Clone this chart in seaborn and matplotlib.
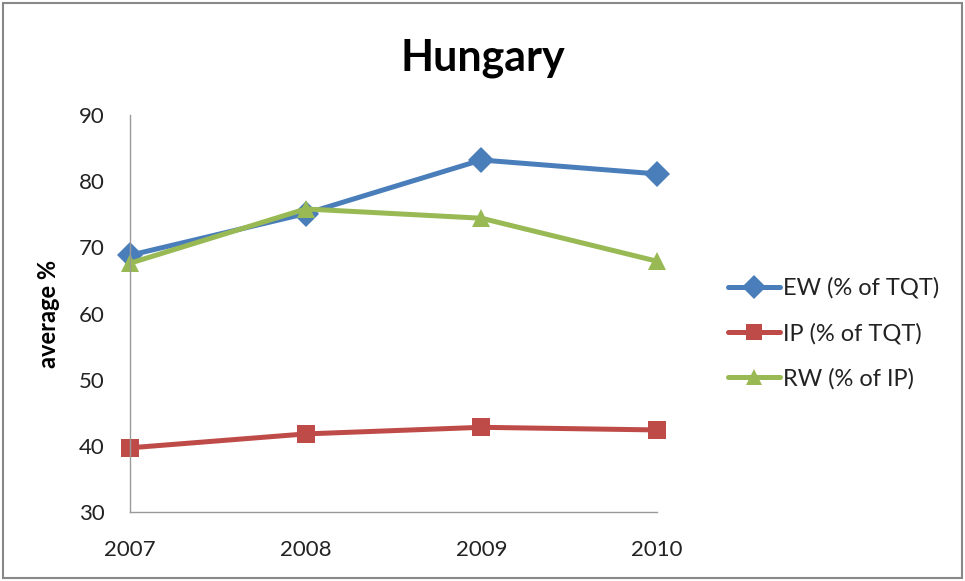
import matplotlib
matplotlib.use("Agg")
import matplotlib.pyplot as plt
import seaborn as sns
import pandas as pd
from matplotlib.patches import Rectangle

years = [2007, 2008, 2009, 2010]
ew = [68.8, 75.1, 83.2, 81.1]
ip = [39.7, 41.8, 42.8, 42.4]
rw = [67.6, 75.8, 74.4, 67.9]
series_names = ["EW (% of TQT)", "IP (% of TQT)", "RW (% of IP)"]
y_ticks = [30, 40, 50, 60, 70, 80, 90]

sns.set_theme(style="white")
plt.rcParams['font.family'] = ['Lato', 'DejaVu Sans']

df = pd.DataFrame({
    "year": years * 3,
    "value": ew + ip + rw,
    "series": [series_names[0]] * 4 + [series_names[1]] * 4 + [series_names[2]] * 4,
})

colors = {series_names[0]: "#4A7EBB", series_names[1]: "#BE4B48", series_names[2]: "#98B954"}
markers = {series_names[0]: "D", series_names[1]: "s", series_names[2]: "^"}

fig = plt.figure(figsize=(9.65, 5.81), dpi=100)
ax = fig.add_axes([130/965, 69/581, 527/965, 397/581])

sns.lineplot(data=df, x="year", y="value", hue="series", style="series",
             palette=colors, markers=markers, dashes=False, linewidth=3.6,
             markersize=13, markeredgewidth=0, ax=ax, legend=True)
for ln in ax.lines:
    ln.set_clip_on(False)

ax.set_xlim(2007, 2010)
ax.set_ylim(30, 90)
ax.set_xticks(years)
ax.set_xticklabels([str(y) for y in years])
ax.set_yticks(y_ticks)
ax.tick_params(axis='both', length=0, labelsize=16, colors="#222222")
ax.tick_params(axis='y', pad=18)
ax.tick_params(axis='x', pad=20)
for s in ["top", "right"]:
    ax.spines[s].set_visible(False)
for s in ["left", "bottom"]:
    ax.spines[s].set_color("#999999")
    ax.spines[s].set_linewidth(1)
ax.set_xlabel("")
ax.set_ylabel("average %", fontsize=17, fontweight="bold", labelpad=14, color="black")

leg = ax.legend(loc="center left", bbox_to_anchor=(1.095, 0.45), frameon=False,
                fontsize=17, handlelength=2.2, labelspacing=1.0, handletextpad=0.1)
for h in leg.legend_handles:
    h.set_linewidth(3.6)
    h.set_markersize(12)
for t in leg.get_texts():
    t.set_color("#222222")

fig.text(0.5, 0.9, "Hungary", ha="center", va="center", fontsize=31, fontweight="bold", color="black")

fig.patches.append(Rectangle((3/965, 3/581), 959/965, 575/581, transform=fig.transFigure,
                             fill=False, edgecolor="#888888", linewidth=1.5))

fig.savefig("out.png", dpi=100)
